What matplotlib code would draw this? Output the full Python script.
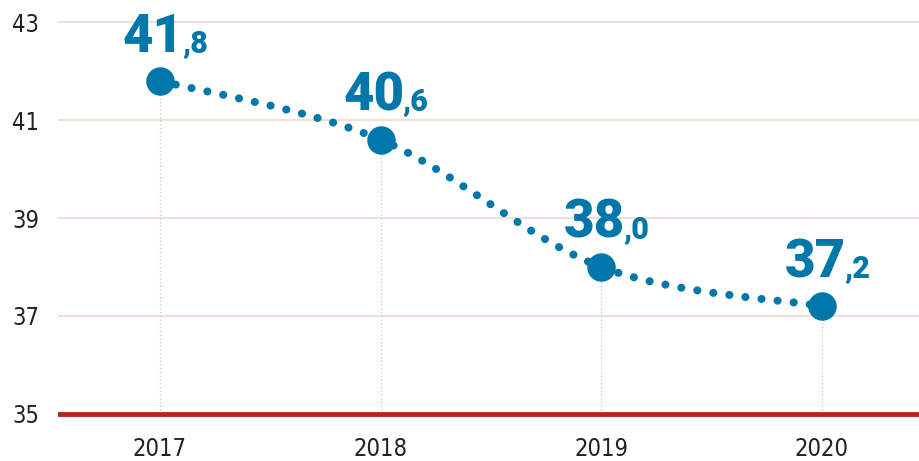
import matplotlib.pyplot as plt
import numpy as np
from matplotlib.path import Path
from matplotlib.patches import PathPatch
from matplotlib import font_manager

years = ['2017', '2018', '2019', '2020']
values = [41.8, 40.6, 38.0, 37.2]
int_labels = ['41', '40', '38', '37']
dec_labels = [',8', ',6', ',0', ',2']
yticks = [35, 37, 39, 41, 43]

blue = '#0077AA'
names = {f.name for f in font_manager.fontManager.ttflist}
if 'Liberation Sans Narrow' in names:
    tick_kw = dict(family=['Liberation Sans Narrow', 'DejaVu Sans'])
else:
    tick_kw = dict(family=['DejaVu Sans'], stretch='condensed')

fig = plt.figure(figsize=(9.19, 4.61), dpi=100)
ax = fig.add_axes([58 / 919, 0, 1 - 58 / 919, 1])

x = np.arange(len(years))
ax.set_xlim(-0.462, 3.44)
ax.set_ylim(34.04, 43.45)

# gridlines
for yv in yticks[1:]:
    ax.axhline(yv, color='#EFD9D0', lw=1.2, zorder=1)
ax.axhline(35, color='#B3261E', lw=3.5, zorder=3)

# vertical dotted guides
for xi, v in zip(x, values):
    ax.plot([xi, xi], [35, v], color='#C4C4C4', lw=0.9, ls=(0, (1, 2)), zorder=2)

# smooth dotted connector (bezier through the points)
verts = [(x[0], values[0])]
codes = [Path.MOVETO]
pts = list(zip(x, values))
for i in range(len(pts) - 1):
    p0 = pts[i - 1] if i > 0 else pts[i]
    p1 = pts[i]
    p2 = pts[i + 1]
    p3 = pts[i + 2] if i + 2 < len(pts) else pts[i + 1]
    c1 = (p1[0] + (p2[0] - p0[0]) / 6, p1[1] + (p2[1] - p0[1]) / 6)
    c2 = (p2[0] - (p3[0] - p1[0]) / 6, p2[1] - (p3[1] - p1[1]) / 6)
    verts += [c1, c2, p2]
    codes += [Path.CURVE4] * 3
patch = PathPatch(Path(verts, codes), fill=False, edgecolor=blue, lw=5.8,
                  ls=(0, (0.01, 2.0)), capstyle='round', zorder=4)
ax.add_patch(patch)

ax.plot(x, values, 'o', color=blue, ms=20.5, mew=0, zorder=5)

# value labels: big integer part, small decimal part on the same baseline
fig.canvas.draw()
renderer = fig.canvas.get_renderer()
for xi, v, a, b in zip(x, values, int_labels, dec_labels):
    t = ax.annotate(a, (xi, v), xytext=(-27, 21), textcoords='offset points',
                    ha='left', va='baseline', fontsize=38, fontweight='black',
                    family='Roboto', color=blue, zorder=6)
    w = t.get_window_extent(renderer).width * 72 / fig.dpi
    ax.annotate(b, (xi, v), xytext=(-27 + w - 1, 21), textcoords='offset points',
                ha='left', va='baseline', fontsize=22, fontweight='black',
                family='Roboto', color=blue, zorder=6)

ax.set_xticks(x)
ax.set_xticklabels(years, fontsize=17, **tick_kw)
ax.set_yticks(yticks)
ax.set_yticklabels([str(t) for t in yticks], fontsize=17, **tick_kw)
for lab in ax.get_yticklabels():
    lab.set_ha('left')
ax.tick_params(axis='y', length=0, pad=33, colors='#222222')
ax.tick_params(axis='x', length=0, pad=-17, colors='#222222')
for s in ax.spines.values():
    s.set_visible(False)

fig.savefig('out.png', dpi=100)
